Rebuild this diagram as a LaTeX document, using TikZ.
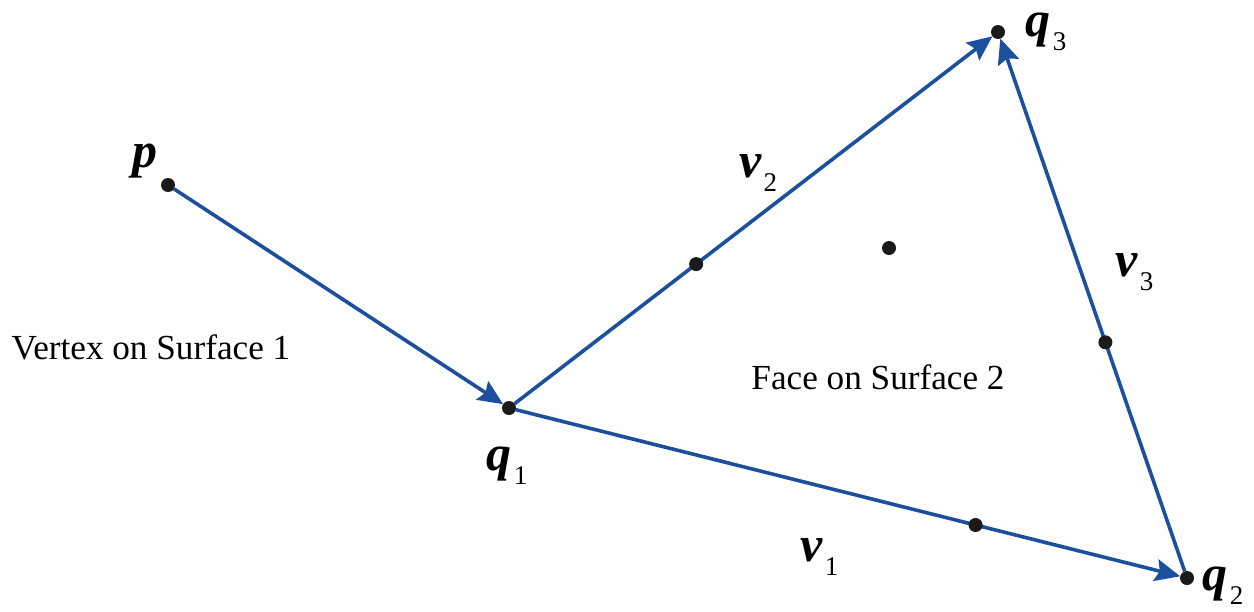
\documentclass[tikz,border=0pt]{standalone}
\usepackage{fontspec}
\setmainfont{Liberation Serif}
\usetikzlibrary{arrows.meta,positioning,calc}
\definecolor{edgeblue}{HTML}{1C509E}
\definecolor{dotink}{HTML}{1A1A1A}

% bold italic point name with a low upright index
\newcommand{\ptlabel}[2]{{\fontsize{25}{25}\selectfont\bfseries\itshape #1}\kern1pt\raisebox{-7pt}{\fontsize{13.5}{14}\selectfont #2}}

\begin{document}
\begin{tikzpicture}[
  x=0.5pt, y=-0.5pt,
  dot/.style = {circle, fill=dotink, inner sep=0pt, minimum size=7pt, outer sep=0pt},
  ln/.style  = {-{Stealth[length=12.5pt, width=11pt, inset=2pt]}, draw=edgeblue, line width=1.8pt},
  lbl/.style = {inner sep=0pt},
  txt/.style = {font=\fontsize{17.6}{20}\selectfont, inner sep=0pt},
]
\useasboundingbox (0,0) rectangle (1254,611);

% --- the vertex and the three corners of the face -------------------------------------------------
\node[dot] (p)  at (168,185)  {};
\node[dot] (q1) at (509,408)  {};
\node[dot] (q2) at (1187,578) {};
\node[dot] (q3) at (998,32)   {};
\node[dot] (c)  at (889,248)  {};

% --- edges, each with its own marked point -------------------------------------------------------
\draw[ln] (p) -- (q1);
\draw[ln] (q1) -- node[dot, pos=0.38] (m2) {} (q3);
\draw[ln] (q1) -- node[dot, pos=0.692] (m1) {} (q2);
\draw[ln] (q2) -- node[dot, pos=0.43] (m3) {} (q3);

% --- names of points and edges -------------------------------------------------------------------
\node[lbl] (lp)  at ($(p)+(-22,-22)$)  {\ptlabel{p}{}};
\node[lbl] (lq1) at ($(q1)+(-2,58)$)   {\ptlabel{q}{1}};
\node[lbl] (lq2) at ($(q2)+(36,8)$)    {\ptlabel{q}{2}};
\node[lbl] (lq3) at ($(q3)+(48,0)$)    {\ptlabel{q}{3}};
\node[lbl] (lv1) at ($(m1)+(-156,32)$) {\ptlabel{v}{1}};
\node[lbl] (lv2) at ($(m2)+(62,-91)$)  {\ptlabel{v}{2}};
\node[lbl] (lv3) at ($(m3)+(29,-70)$)  {\ptlabel{v}{3}};

% --- the two surfaces ----------------------------------------------------------------------------
\node[txt] (vs) at (151,347) {Vertex on Surface 1};
\node[txt] (fs) at (878,377) {Face on Surface 2};

\end{tikzpicture}
\end{document}
